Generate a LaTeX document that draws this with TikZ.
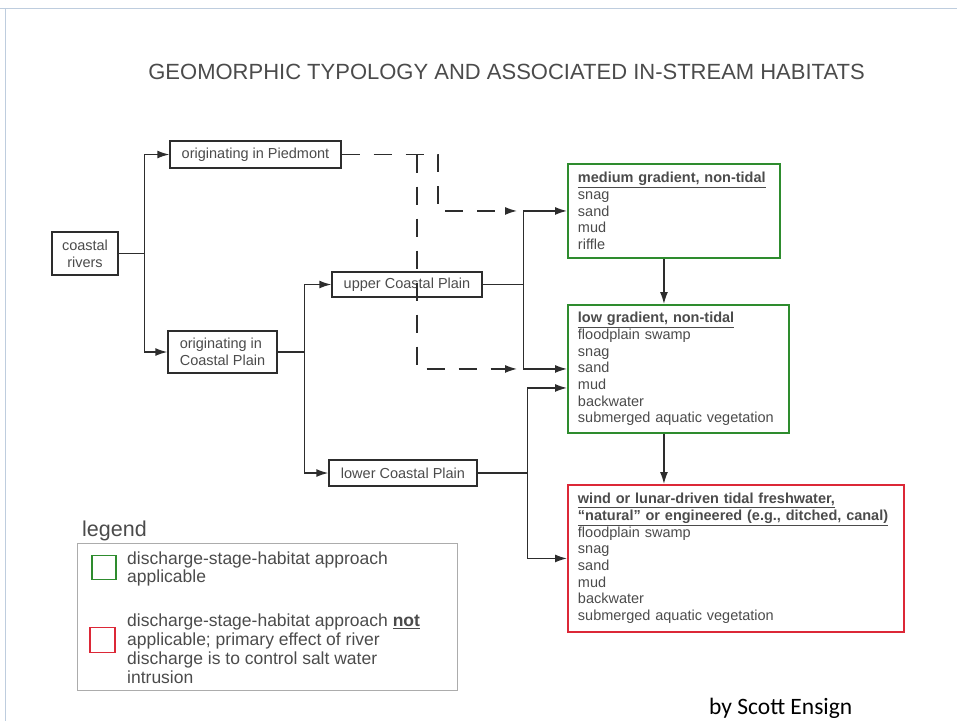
\documentclass[tikz,border=0pt]{standalone}
\usepackage{fontspec}
\setmainfont{Liberation Sans}
\newfontfamily\bylinefont{Carlito}
\usepackage{xcolor}
\usepackage{tikz}
\usetikzlibrary{arrows.meta, positioning, calc}
\definecolor{HabGreen}{RGB}{46, 140, 46}
\definecolor{HabRed}{RGB}{220, 40, 55}
\definecolor{LineGray}{RGB}{45, 45, 45}
\definecolor{TextGray}{RGB}{75, 75, 75}
\definecolor{FrameBlue}{RGB}{190, 205, 222}

\begin{document}
\begin{tikzpicture}[x=1pt, y=-1pt,
    typebox/.style={draw=LineGray, line width=1.4pt, text=TextGray, inner sep=0pt, font=\fontsize{14.5}{16.7}\selectfont},
    habbox/.style={line width=1.9pt, anchor=north west, text=TextGray, align=left, inner xsep=10pt, inner ysep=0pt, font=\fontsize{14.5}{16.7}\selectfont},
    link/.style={LineGray, line width=1.4pt},
    arr/.style={link, -{Latex[length=12pt, width=8pt]}},
    dline/.style={arr, dash pattern=on 18pt off 14pt}]
    \useasboundingbox (0,0) rectangle (957,721);

    % 边框
    \draw[FrameBlue, line width=1pt] (0,8) -- (957,8);
    \draw[FrameBlue, line width=1pt] (5,8) -- (5,721);

    % 标题
    \node[text=TextGray, inner sep=0pt, font=\fontsize{22}{26}\selectfont] (title) at (506.5,72)
        {GEOMORPHIC TYPOLOGY AND ASSOCIATED IN-STREAM HABITATS};

    % 分类框
    \node[typebox, minimum width=66pt, minimum height=43pt, align=center] (rivers) at (85,253.5) {coastal\\rivers};
    \node[typebox, minimum width=171pt, minimum height=27pt] (pied) at (255.5,154.5) {originating in Piedmont};
    \node[typebox, minimum width=109pt, minimum height=42pt, align=left] (ocp) at (222.5,352) {originating in\\Coastal Plain};
    \node[typebox, minimum width=150pt, minimum height=25pt] (ucp) at (407,284.5) {upper Coastal Plain};
    \node[typebox, minimum width=148pt, minimum height=26pt] (lcp) at (403,473) {lower Coastal Plain};

    % 生境框
    \node[habbox, draw=HabGreen, text width=192pt, minimum height=94pt] (med) at (567,163)
        {\underline{\textbf{medium gradient, non-tidal}}\\snag\\sand\\mud\\riffle};
    \node[habbox, draw=HabGreen, text width=201pt, minimum height=128pt] (low) at (567,304)
        {\underline{\textbf{low gradient, non-tidal}}\\floodplain swamp\\snag\\sand\\mud\\backwater\\submerged aquatic vegetation};
    \node[habbox, draw=HabRed, text width=316pt, minimum height=147pt] (red) at (567,484)
        {\underline{\textbf{wind or lunar-driven tidal freshwater,}}\\\underline{\textbf{``natural'' or engineered (e.g., ditched, canal)}}\\floodplain swamp\\snag\\sand\\mud\\backwater\\submerged aquatic vegetation};

    % 分叉点
    \coordinate[right=26pt of rivers.east] (jr);
    \coordinate[right=27pt of ocp.east] (jc);
    \coordinate[right=41pt of ucp.east] (ju);
    \coordinate[right=50pt of lcp.east] (jl);
    \coordinate[left=50pt of med.west] (dmed);
    \coordinate[left=50pt of low.west] (dlow);

    % 实线连接
    \draw[link] (rivers.east) -- (jr);
    \draw[arr] (jr) |- (pied.west);
    \draw[arr] (jr) |- (ocp.west);
    \draw[link] (ocp.east) -- (jc);
    \draw[arr] (jc) |- (ucp.west);
    \draw[arr] (jc) |- (lcp.west);
    \draw[link] (ucp.east) -- (ju);
    \draw[arr] (ju) |- (med.west);
    \draw[arr] (ju) |- (low.west);
    \draw[link] (lcp.east) -- (jl);
    \draw[arr] (jl) |- ([yshift=-19pt]low.west);
    \draw[arr] (jl) |- (red.west);
    \draw[arr] ([xshift=-10pt]med.south) -- ([xshift=-10pt]med.south |- low.north);
    \draw[arr] ([xshift=-14.5pt]low.south) -- ([xshift=-14.5pt]low.south |- red.north);

    % 虚线 (Piedmont)
    \draw[dline] (pied.east) -| ([xshift=-79pt]dmed) -- (dmed);
    \draw[dline] ([xshift=-100pt]dlow |- pied.east) |- (dlow);

    % 图例
    \node[anchor=west, text=TextGray, inner sep=0pt, font=\fontsize{21.5}{24}\selectfont] (legtitle) at (82,531) {legend};
    \node[draw=gray!65, line width=1pt, anchor=north west, minimum width=380pt, minimum height=147pt, inner sep=0pt] (legbox) at (77,543) {};
    \node[draw=HabGreen, line width=1.9pt, minimum size=24pt, inner sep=0pt] (keygreen) at (104,567.5) {};
    \node[draw=HabRed, line width=1.9pt, minimum size=25pt, inner sep=0pt] (keyred) at (102.5,640) {};
    \node[anchor=west, align=left, text=TextGray, inner sep=0pt, font=\fontsize{17.5}{18.7}\selectfont] (keygreentext) at (127,569)
        {discharge-stage-habitat approach\\applicable};
    \node[anchor=west, align=left, text=TextGray, inner sep=0pt, font=\fontsize{17.5}{19}\selectfont] (keyredtext) at (127,648.5)
        {discharge-stage-habitat approach \underline{\textbf{not}}\\applicable; primary effect of river\\discharge is to control salt water\\intrusion};

    % 署名
    \node[anchor=base west, inner sep=0pt, font=\bylinefont\fontsize{23.5}{27}\selectfont] (byline) at (709,714) {by Scott Ensign};
\end{tikzpicture}
\end{document}
